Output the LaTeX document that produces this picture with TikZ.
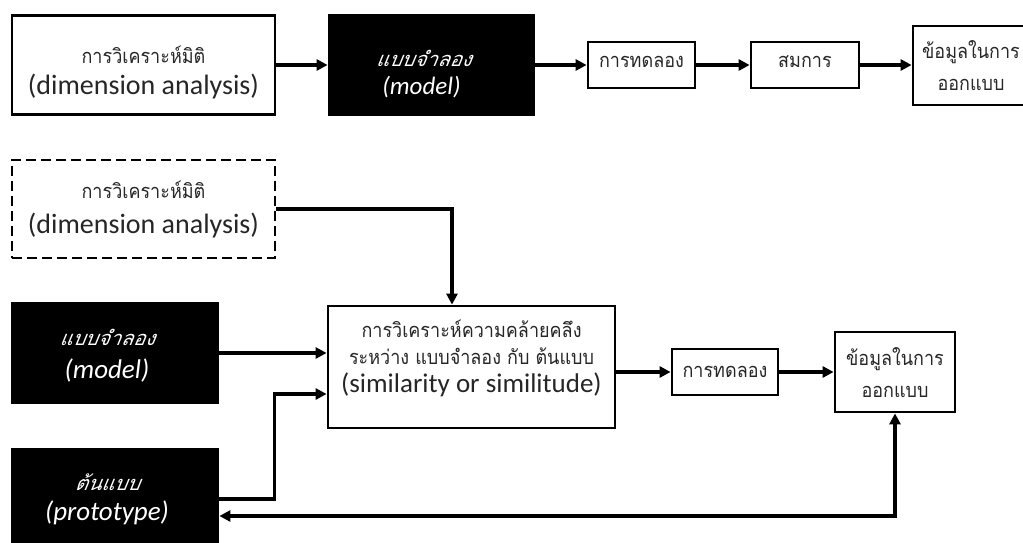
\documentclass[tikz,border=0pt]{standalone}
\usepackage{fontspec}
\setmainfont{Carlito}
\newfontfamily\thaifont[Script=Thai,FakeStretch=0.9]{Loma}
\newfontfamily\thaislant[Script=Thai,FakeSlant=0.2]{Loma}
\usetikzlibrary{arrows.meta}

% Thai text, upright and slanted
\newcommand{\thtext}[1]{{\thaifont\fontsize{20}{20}\selectfont #1}}
\newcommand{\thslant}[1]{{\thaislant\fontsize{20}{20}\selectfont #1}}
% fixed line heights inside the boxes
\newcommand{\sm}[1]{\smash{#1}}
\newcommand{\boxtop}[1]{\rule{0pt}{#1pt}}
\newcommand{\boxbot}[1]{\rule[-#1pt]{0pt}{#1pt}}

\tikzset{
  whitebox/.style={draw, line width=2.8pt, align=center, inner sep=0pt, text=black!85},
  blackbox/.style={draw, fill=black, line width=2.8pt, align=center, inner sep=0pt, text=white},
  arr/.style={line width=3.2pt, -{Triangle[length=11pt,width=11pt]}},
}

\begin{document}
\begin{tikzpicture}[x=1pt,y=-1pt]
    \useasboundingbox (0,0) rectangle (1023,543);
    % Top row
    \node[whitebox, minimum width=263pt, minimum height=99pt,
      font=\fontsize{28}{31}\selectfont] (dimA) at (143.5,65)
      {\boxtop{29}\sm{\thtext{การวิเคราะห์มิติ}}\\\sm{(dimension analysis)}};
    \node[blackbox, minimum width=205pt, minimum height=99pt,
      font=\fontsize{25}{28}\selectfont\itshape] (modelA) at (431.5,65)
      {\boxtop{30}\sm{\thslant{แบบจำลอง}\kern16pt}\\\sm{(model)\kern20pt}};
    \node[whitebox, minimum width=107pt, minimum height=46pt] (expA) at (641.5,65)
      {\boxtop{6}\sm{\thtext{การทดลอง}}};
    \node[whitebox, minimum width=108pt, minimum height=46pt] (eqA) at (805,65)
      {\boxtop{6}\sm{\thtext{สมการ}}};
    \node[whitebox, minimum width=116pt, minimum height=79pt,
      font=\fontsize{20}{32}\selectfont] (dataA) at (971,65.5)
      {\boxtop{17}\sm{\thtext{ข้อมูลในการ}}\\\sm{\thtext{ออกแบบ}}};
    \draw[arr] (dimA.east) -- (dimA.east -| modelA.west);
    \draw[arr] (modelA.east) -- (modelA.east -| expA.west);
    \draw[arr] (expA) -- (eqA);
    \draw[arr] (eqA) -- (eqA -| dataA.west);
    % Bottom part
    \node[whitebox, dash pattern=on 10pt off 5pt, minimum width=263pt, minimum height=98pt,
      font=\fontsize{28}{35}\selectfont] (dimB) at (143.5,209)
      {\boxtop{13}\sm{\thtext{การวิเคราะห์มิติ}}\\\sm{(dimension analysis)}};
    \node[blackbox, minimum width=206pt, minimum height=99pt,
      font=\fontsize{27}{33}\selectfont\itshape] (modelB) at (115,353)
      {\boxtop{17}\sm{\thslant{แบบจำลอง}\kern16pt}\\\sm{(model)\kern16pt}};
    \node[blackbox, minimum width=206pt, minimum height=99pt,
      font=\fontsize{27}{30}\selectfont\itshape] (protoB) at (115,499)
      {\boxtop{12}\sm{\thslant{ต้นแบบ}\kern16pt}\\\sm{(prototype)\kern16pt}};
    \node[whitebox, minimum width=287pt, minimum height=122pt,
      font=\fontsize{27}{27}\selectfont] (simB) at (471.5,367)
      {\sm{\thtext{การวิเคราะห์ความคล้ายคลึง}}\\\sm{\thtext{ระหว่าง แบบจำลอง กับ ต้นแบบ}}\\[1pt]\sm{(similarity or similitude)}\boxbot{5}};
    \node[whitebox, minimum width=106pt, minimum height=46pt] (expB) at (725,372)
      {\boxtop{10}\sm{\thtext{การทดลอง}}};
    \node[whitebox, minimum width=120pt, minimum height=80pt,
      font=\fontsize{20}{32}\selectfont] (dataB) at (895,372)
      {\boxtop{18}\sm{\thtext{ข้อมูลในการ}}\\\sm{\thtext{ออกแบบ}}};
    \draw[arr] (dimB.east) -| ([xshift=-19.5pt]simB.north);
    \draw[arr] (modelB.east) -- (modelB.east -| simB.west);
    \draw[arr] (protoB.east) -- ++(55,0) |- ([yshift=-27pt]simB.west);
    \draw[arr] (expB.west -| simB.east) -- (expB.west);
    \draw[arr] (expB) -- (dataB);
    \draw[arr, {Triangle[length=11pt,width=11pt]}-{Triangle[length=11pt,width=11pt]}]
      ([yshift=-17pt]protoB.east) -| (dataB.south);
\end{tikzpicture}
\end{document}
